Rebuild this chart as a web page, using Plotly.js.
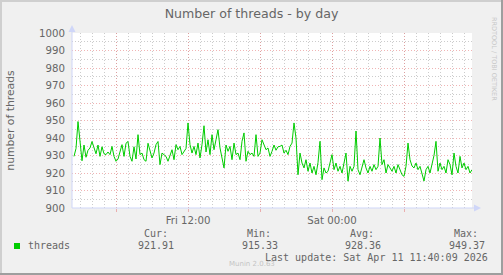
<!DOCTYPE html>
<html>
<head>
<meta charset="utf-8">
<script src="https://cdn.plot.ly/plotly-3.0.1.min.js"></script>
<style>
html,body{margin:0;padding:0;background:#F0F0F0;}
#chart{width:503px;height:275px;}
</style>
</head>
<body>
<div id="chart"></div>
<script>
// ---- data (10-minute samples, Fri 02:30 -> Sat 11:40) ----
const startTime = "2026-04-10T02:20:00";
const stepMinutes = 10;
const threads = [
929.5,934,949.4,938,927,936,929,933,934.3,938,
934,931,936,929.5,935,931,930.5,932,930.5,935.2,
929.5,926.7,928,932.4,936.2,929.5,937,938,929.5,926.7,
935,928,941.9,930.5,931.4,927.6,926.7,937,932.4,928.6,
931.4,936.2,938,924.8,931.4,930.5,929.5,926.7,929.5,933.3,
927.6,936.2,933.3,935.2,930.5,932.4,934,948.6,936.2,931.4,
935.2,930.5,937.1,928.6,936.2,947,932,939,930.5,941.9,
933.3,939,944.8,934.3,929.5,922.9,936,932.4,935.2,927.6,
937.1,930.5,931.4,927.6,938.1,942.9,926.7,932.4,930.5,931.4,
929.5,941.9,929.5,931.4,939,936.2,933.3,934.3,929.5,932.4,
936,933,935,935.2,936,931.4,933,930.5,935.2,937.1,
948.6,940,919,931.4,925.7,922.9,927.6,921,925.7,920,
923.8,919,926,938.1,916.2,922.9,920,921,925,930.5,
921.9,925.7,921,923.8,920,926.7,931.4,915.33,923.8,921,
923.8,944,921.9,919,923.8,927.6,922.9,920,923.8,921,
924.8,921.9,923.8,940,924.8,927.6,920,924.8,922.9,921,
923.8,920,924.8,921.9,919,918.1,923.8,937.1,927.6,924,
922.9,925.7,921.9,923.8,919,915.4,921.9,923.8,920,924.8,
930,938.1,921,925.7,921.9,923.8,920,927.6,924.8,919,
931.4,923.8,920,929.5,922.9,925.7,921.9,923.8,920,921.91
];
const seriesName = "threads";
const chartTitle = "Number of threads - by day";
const yTitle = "number of threads";
const xRange = ["2026-04-10 02:20:00", "2026-04-11 11:40:00"];
const xTickVals = ["2026-04-10 06:00:00","2026-04-10 12:00:00","2026-04-10 18:00:00","2026-04-11 00:00:00","2026-04-11 06:00:00"];
const xTickText = ["", "Fri 12:00", "", "Sat 00:00", ""];
const statLabels = ["Cur:", "Min:", "Avg:", "Max:"];
const statValues = ["921.91", "915.33", "928.36", "949.37"];
const lastUpdate = "Last update: Sat Apr 11 11:40:09 2026";
const watermark = "Munin 2.0.63";
const sideText = "RRDTOOL / TOBI OETIKER";

// timestamps
function fmt(d){return d.toISOString().slice(0,19).replace("T"," ");}
const t0 = new Date(startTime + "Z").getTime();
const times = threads.map((_, i) => fmt(new Date(t0 + (i + 1) * stepMinutes * 60000)));

// pixel -> paper helpers (plot area: x 72..472, y 33..208)
const L = 72, T = 33, W = 400, H = 175;
const px = x => (x - L) / W;
const py = y => (T + H - y) / H;

const FONT = "DejaVu Sans, sans-serif";
const MONO = "DejaVu Sans Mono, monospace";
const TXT = "#666666";
const AXISC = "#CFD6F8";
const MGRID = "rgba(230,130,130,0.6)";
const GRID = "rgba(170,170,170,0.6)";

const annotations = [];
function txt(text, x, y, opts){
  annotations.push(Object.assign({text, x: px(x), y: py(y), xref: "paper", yref: "paper",
    showarrow: false, xanchor: "left", yanchor: "middle", borderpad: 0,
    font: {family: MONO, size: 10, color: TXT}}, opts || {}));
}
const labelLeft = [143, 245.7, 349, 452.7];
const valueLeft = [137, 240.7, 344, 447.7];
statLabels.forEach((s, i) => txt(s, labelLeft[i], 233.3));
statValues.forEach((s, i) => txt(s, valueLeft[i], 245));
txt(seriesName, 26.5, 245);
txt(lastUpdate, 489, 257.3, {xanchor: "right"});
txt(watermark, 252, 264.3, {xanchor: "center", font: {family: FONT, size: 7, color: "#C4C4C4"}});
txt(sideText, 494, 59, {xanchor: "center", textangle: 90, font: {family: FONT, size: 6.5, color: "#C8C8C8"}});

const shapes = [
  // frame
  {type: "rect", xref: "paper", yref: "paper", x0: px(0), x1: px(503), y0: py(0), y1: py(2), fillcolor: "#CFCFCF", line: {width: 0}},
  {type: "rect", xref: "paper", yref: "paper", x0: px(0), x1: px(2), y0: py(0), y1: py(275), fillcolor: "#CFCFCF", line: {width: 0}},
  {type: "rect", xref: "paper", yref: "paper", x0: px(501), x1: px(503), y0: py(0), y1: py(275), fillcolor: "#9E9E9E", line: {width: 0}},
  {type: "rect", xref: "paper", yref: "paper", x0: px(0), x1: px(503), y0: py(273), y1: py(275), fillcolor: "#9E9E9E", line: {width: 0}},
  // legend swatch
  {type: "rect", xref: "paper", yref: "paper", x0: px(14), x1: px(20), y0: py(249), y1: py(243), fillcolor: "#00CC00", line: {width: 0}},
  // axis lines extended + arrows
  {type: "line", xref: "paper", yref: "paper", x0: px(72), x1: px(476), y0: py(208), y1: py(208), line: {color: AXISC, width: 1}},
  {type: "line", xref: "paper", yref: "paper", x0: px(72), x1: px(72), y0: py(208), y1: py(30), line: {color: AXISC, width: 1}},
  {type: "path", xref: "paper", yref: "paper",
   path: `M ${px(474)} ${py(204.5)} L ${px(481)} ${py(208)} L ${px(474)} ${py(211.5)} Z`, fillcolor: AXISC, line: {width: 0}},
  {type: "path", xref: "paper", yref: "paper",
   path: `M ${px(68.5)} ${py(32)} L ${px(72)} ${py(25)} L ${px(75.5)} ${py(32)} Z`, fillcolor: AXISC, line: {width: 0}}
];

const trace = {
  type: "scatter", mode: "lines", name: seriesName,
  x: times, y: threads,
  line: {color: "#00CC00", width: 1},
  hoverinfo: "x+y"
};

const layout = {
  width: 503, height: 275,
  margin: {l: L, r: 503 - L - W, t: T, b: 275 - T - H, pad: 0},
  paper_bgcolor: "#F0F0F0", plot_bgcolor: "#FFFFFF",
  showlegend: false,
  title: {text: chartTitle, x: 0.5, xref: "container", xanchor: "center",
          y: 1 - 13.5 / 275, yref: "container", yanchor: "middle",
          font: {family: FONT, size: 12.6, color: TXT}},
  xaxis: {
    type: "date", range: xRange, fixedrange: true,
    tickmode: "array", tickvals: xTickVals, ticktext: xTickText,
    showgrid: true, gridcolor: MGRID, griddash: "1px,2px", gridwidth: 1,
    minor: {tickmode: "linear", tick0: "2026-04-10 00:00:00", dtick: 3600000,
            showgrid: true, gridcolor: GRID, griddash: "1px,2px", gridwidth: 1},
    ticks: "outside", ticklen: 3, tickcolor: MGRID,
    showline: false, zeroline: false,
    tickfont: {family: FONT, size: 10.2, color: TXT}
  },
  yaxis: {
    range: [900, 1000], fixedrange: true,
    tickmode: "linear", tick0: 900, dtick: 10,
    showgrid: true, gridcolor: MGRID, griddash: "1px,2px", gridwidth: 1,
    minor: {tickmode: "linear", tick0: 900, dtick: 5, showgrid: true, gridcolor: GRID, griddash: "1px,2px", gridwidth: 1},
    ticks: "outside", ticklen: 4, tickcolor: "rgba(0,0,0,0)",
    showline: false, zeroline: false,
    tickfont: {family: FONT, size: 10.2, color: TXT},
    title: {text: yTitle, standoff: 22, font: {family: FONT, size: 10.8, color: TXT}}
  },
  shapes, annotations
};

Plotly.newPlot("chart", [trace], layout, {staticPlot: true, displayModeBar: false});
</script>
</body>
</html>
